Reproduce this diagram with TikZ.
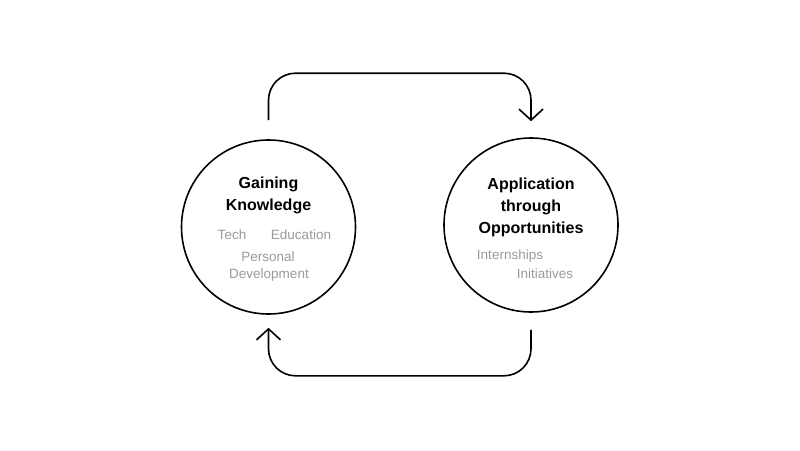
\documentclass[tikz,border=0pt]{standalone}
\usepackage{fontspec}
\setmainfont{Liberation Sans}
\usetikzlibrary{arrows.meta}
\definecolor{Tag}{HTML}{9A9A9A}

\begin{document}
\begin{tikzpicture}[x=1pt, y=-1pt,
	hub/.style={circle, draw=black, line width=1.6pt, minimum size=174pt, inner sep=0pt},
	title/.style={font=\fontsize{16}{22}\selectfont\bfseries, align=center},
	tag/.style={font=\fontsize{13.5}{18}\selectfont, text=Tag},
	cycle/.style={line width=1.6pt, rounded corners=27pt, -{Straight Barb[length=11pt,width=24pt]}}]
	\useasboundingbox (0,0) rectangle (800,450);

	% the two stages
	\node[hub] (gain) at (268.5,227) {};
	\node[hub] (apply) at (531,225) {};

	\node[title] (gainT) at (268.5,195.5) {Gaining\\Knowledge};
	\node[tag] (tech) at (232,235) {Tech};
	\node[tag] (edu) at (301,235) {Education};
	\node[tag] (pers) at (268,257) {Personal};
	\node[tag] (dev) at (269,275) {Development};

	\node[title] (applyT) at (531,207) {Application\\through\\Opportunities};
	\node[tag] (intern) at (510,256) {Internships};
	\node[tag] (init) at (545,274) {Initiatives};

	% loop between them
	\draw[cycle] ([yshift=19pt]gain.north) -- ([yshift=66pt]gain.north) -| ([yshift=16pt]apply.north);
	\draw[cycle] ([yshift=-17pt]apply.south) -- ([yshift=-63pt]apply.south) -| ([yshift=-13pt]gain.south);
\end{tikzpicture}
\end{document}
